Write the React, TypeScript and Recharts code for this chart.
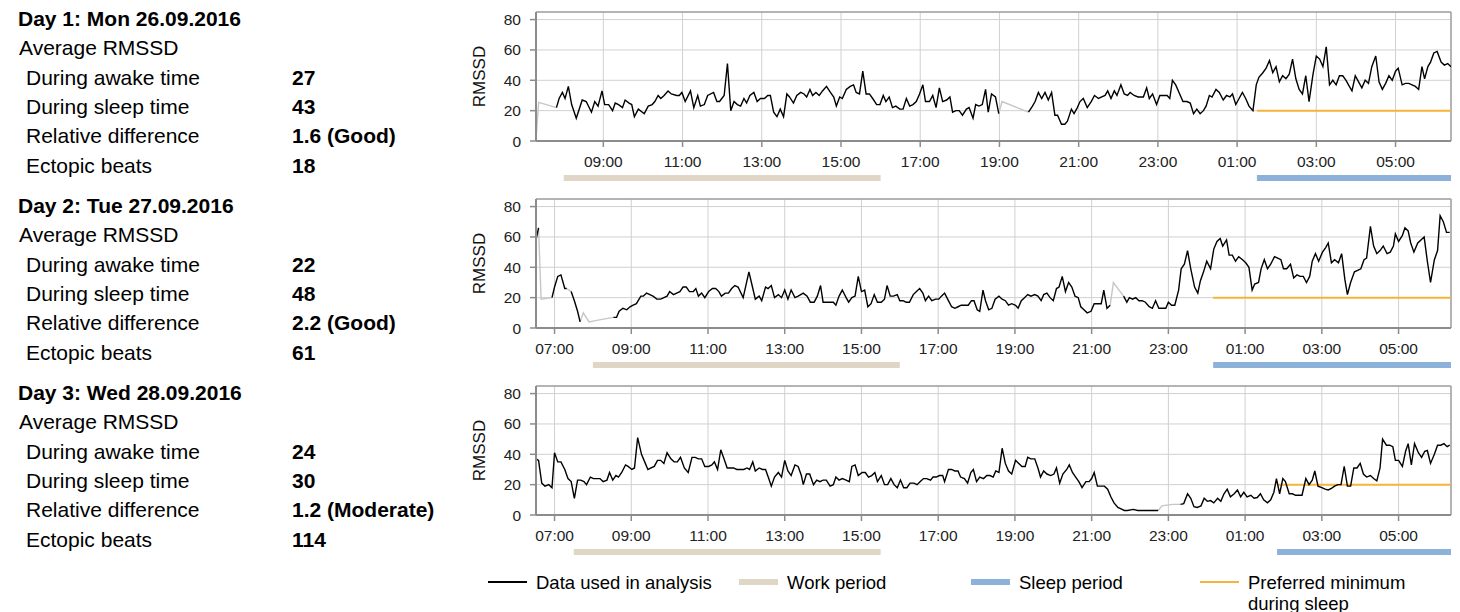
import { LineChart, Line, XAxis, YAxis, CartesianGrid, ReferenceLine } from "recharts";

type Pt = [number, number];

// times are minutes after midnight of the recording day (> 1440 = next morning)
const DAY_TITLES = ["Day 1: Mon 26.09.2016", "Day 2: Tue 27.09.2016", "Day 3: Wed 28.09.2016"];
const STAT_LABELS = ["During awake time", "During sleep time", "Relative difference", "Ectopic beats"];
const DAY1_STATS = ["27", "43", "1.6 (Good)", "18"];
const DAY2_STATS = ["22", "48", "2.2 (Good)", "61"];
const DAY3_STATS = ["24", "30", "1.2 (Moderate)", "114"];

const Y_TICKS = [0, 20, 40, 60, 80];
const PREFERRED_MIN = 20;

const DAY1_RANGE: Pt = [438, 1824];
const DAY1_TICKS = [540, 660, 780, 900, 1020, 1140, 1260, 1380, 1500, 1620, 1740];
const DAY1_WORK: Pt = [480, 960];
const DAY1_SLEEP: Pt = [1530, 1824];
const DAY1_UNUSED: Pt[][] = [
  [[438, 1], [442, 25.5], [469, 22]],
  [[1139, 18], [1144, 26], [1184, 19]],
];
const DAY1_USED: Pt[][] = [
  [
    [469, 22], [473, 28], [478, 32], [482, 28], [487, 36], [492, 24], [499, 15], [508, 27], [514, 26], [522, 19],
    [527, 26], [532, 23], [538, 33], [542, 24], [548, 24], [554, 20], [558, 25], [563, 24], [569, 22], [573, 27],
    [579, 25], [583, 24], [587, 16], [593, 21], [602, 18], [608, 23], [614, 24], [618, 26], [623, 30], [627, 28],
    [632, 30], [638, 33], [643, 31], [651, 30], [655, 30], [659, 32], [664, 26], [672, 33], [677, 22], [683, 30],
    [687, 23], [693, 24], [698, 30], [707, 32], [712, 26], [716, 26], [723, 30], [728, 51], [733, 20], [738, 26],
    [743, 24], [748, 23], [753, 28], [757, 25], [762, 30], [768, 32], [773, 26], [778, 28], [784, 28], [789, 30],
    [793, 30], [798, 19], [803, 16], [808, 21], [813, 16], [818, 31], [822, 29], [828, 25], [833, 30], [839, 32],
    [844, 31], [848, 29], [853, 34], [857, 30], [862, 32], [867, 30], [872, 33], [878, 36], [884, 32], [889, 29],
    [893, 23], [898, 29], [902, 28], [908, 34], [914, 36], [919, 37], [923, 32], [928, 31], [933, 46], [938, 31],
    [943, 31], [948, 28], [954, 24], [959, 24], [964, 30], [968, 26], [973, 29], [978, 22], [983, 23], [989, 21],
    [994, 21], [999, 28], [1004, 23], [1009, 24], [1014, 26], [1019, 31], [1024, 37], [1028, 26], [1034, 26],
    [1039, 30], [1044, 22], [1049, 35], [1054, 26], [1060, 27], [1065, 29], [1069, 19], [1074, 20], [1079, 20],
    [1084, 17], [1090, 21], [1094, 22], [1100, 15], [1104, 24], [1109, 23], [1114, 24], [1119, 34], [1123, 19],
    [1128, 31], [1134, 29], [1139, 18],
  ],
  [
    [1184, 19], [1190, 23], [1194, 26], [1199, 32], [1204, 28], [1209, 32], [1214, 27], [1219, 32], [1224, 17],
    [1228, 17], [1234, 11], [1239, 11], [1243, 13], [1249, 21], [1253, 18], [1258, 22], [1262, 26], [1267, 28],
    [1273, 22], [1279, 26], [1284, 30], [1290, 28], [1295, 29], [1300, 30], [1304, 33], [1309, 28], [1314, 33],
    [1318, 30], [1324, 37], [1329, 31], [1334, 30], [1338, 32], [1344, 30], [1350, 29], [1358, 29], [1363, 35],
    [1367, 28], [1372, 31], [1378, 24], [1383, 30], [1389, 30], [1394, 30], [1398, 28], [1402, 40], [1407, 37],
    [1412, 32], [1418, 26], [1424, 26], [1429, 25], [1434, 18], [1439, 21], [1444, 18], [1449, 20], [1453, 23],
    [1458, 30], [1462, 29], [1468, 34], [1473, 32], [1479, 27], [1484, 30], [1489, 29], [1493, 31], [1498, 24],
    [1503, 28], [1508, 32], [1513, 28], [1518, 23], [1524, 20], [1529, 37], [1533, 42], [1539, 45], [1544, 48],
    [1549, 53], [1554, 45], [1559, 49], [1564, 39], [1569, 43], [1574, 41], [1579, 44], [1584, 54], [1589, 41],
    [1594, 34], [1599, 31], [1604, 43], [1609, 26], [1615, 44], [1620, 56], [1625, 54], [1630, 49], [1635, 62],
    [1640, 37], [1645, 40], [1650, 37], [1655, 43], [1660, 43], [1665, 40], [1670, 36], [1674, 33], [1679, 43],
    [1684, 39], [1689, 35], [1694, 40], [1699, 38], [1704, 49], [1710, 56], [1715, 39], [1720, 34], [1725, 38],
    [1730, 43], [1735, 40], [1740, 46], [1744, 48], [1750, 37], [1755, 38], [1760, 38], [1765, 37], [1770, 36],
    [1775, 34], [1780, 49], [1784, 41], [1789, 49], [1793, 52], [1798, 58], [1803, 59], [1809, 52], [1814, 50],
    [1819, 51], [1824, 49],
  ],
];

const DAY2_RANGE: Pt = [391, 1822];
const DAY2_TICKS = [420, 540, 660, 780, 900, 1020, 1140, 1260, 1380, 1500, 1620, 1740];
const DAY2_WORK: Pt = [480, 960];
const DAY2_SLEEP: Pt = [1450, 1822];
const DAY2_UNUSED: Pt[][] = [
  [[395, 66], [399, 19], [416, 20]],
  [[439, 26], [446, 24]],
  [[460, 4], [465, 10], [474, 4], [486, 5], [499, 6], [512, 7]],
  [[1289, 15], [1294, 30], [1310, 21]],
];
const DAY2_USED: Pt[][] = [
  [[391, 58], [395, 66]],
  [[416, 20], [420, 27], [425, 34], [430, 35], [436, 26], [439, 26]],
  [[446, 24], [451, 18], [456, 11], [460, 4]],
  [
    [512, 7], [517, 7], [521, 11], [527, 13], [533, 12], [538, 14], [543, 15], [548, 16], [555, 21], [559, 21],
    [564, 23], [569, 22], [574, 21], [580, 19], [586, 19], [591, 20], [596, 21], [600, 24], [606, 22], [611, 23],
    [616, 24], [621, 27], [626, 27], [631, 24], [637, 24], [641, 26], [645, 21], [650, 23], [655, 20], [661, 24],
    [667, 26], [672, 26], [677, 24], [681, 21], [687, 23], [692, 23], [697, 26], [702, 28], [707, 27], [715, 20],
    [724, 37], [729, 28], [734, 19], [740, 21], [744, 18], [750, 27], [754, 26], [759, 28], [764, 20], [770, 22],
    [775, 20], [780, 25], [785, 19], [790, 25], [796, 20], [801, 21], [809, 23], [815, 21], [820, 17], [826, 17],
    [831, 21], [836, 28], [840, 17], [845, 17], [851, 17], [856, 17], [860, 15], [865, 21], [870, 25], [876, 20],
    [880, 17], [885, 20], [890, 21], [895, 34], [900, 24], [905, 25], [910, 14], [915, 16], [920, 22], [925, 17],
    [931, 17], [936, 19], [940, 28], [945, 21], [950, 21], [956, 22], [960, 18], [965, 18], [970, 17], [975, 17],
    [981, 22], [986, 24], [991, 26], [996, 23], [1000, 18], [1005, 21], [1010, 18], [1016, 19], [1021, 19],
    [1025, 21], [1030, 23], [1036, 18], [1041, 14], [1046, 13], [1051, 14], [1056, 15], [1062, 15], [1067, 15],
    [1072, 18], [1076, 18], [1081, 12], [1085, 11], [1090, 25], [1094, 18], [1099, 12], [1104, 13], [1109, 19],
    [1115, 21], [1120, 19], [1125, 18], [1130, 15], [1135, 16], [1141, 15], [1145, 13], [1150, 18], [1155, 20],
    [1160, 22], [1165, 21], [1171, 22], [1176, 21], [1181, 18], [1185, 22], [1190, 23], [1195, 20], [1200, 18],
    [1205, 26], [1209, 27], [1214, 34], [1219, 24], [1224, 30], [1229, 27], [1234, 21], [1239, 20], [1243, 14],
    [1248, 12], [1253, 10], [1259, 11], [1264, 16], [1269, 16], [1275, 16], [1279, 25], [1284, 13], [1289, 15],
  ],
  [
    [1310, 21], [1315, 17], [1319, 20], [1324, 19], [1329, 20], [1334, 18], [1339, 18], [1344, 17], [1350, 14],
    [1355, 13], [1360, 18], [1365, 13], [1371, 13], [1376, 13], [1380, 17], [1385, 15], [1390, 15], [1396, 25],
    [1400, 39], [1405, 42], [1410, 51], [1415, 39], [1421, 27], [1426, 23], [1430, 31], [1435, 37], [1440, 44],
    [1446, 39], [1451, 52], [1456, 57], [1461, 59], [1465, 54], [1471, 58], [1475, 48], [1480, 48], [1485, 44],
    [1490, 47], [1496, 45], [1501, 43], [1506, 40], [1511, 25], [1515, 29], [1521, 30], [1525, 39], [1530, 45],
    [1535, 39], [1540, 42], [1546, 47], [1551, 46], [1556, 45], [1560, 39], [1565, 39], [1571, 42], [1576, 33],
    [1581, 35], [1586, 34], [1591, 34], [1596, 30], [1601, 34], [1605, 44], [1610, 49], [1615, 44], [1621, 50],
    [1626, 53], [1630, 56], [1635, 43], [1640, 45], [1646, 43], [1651, 49], [1656, 32], [1660, 22], [1665, 30],
    [1671, 37], [1676, 38], [1681, 39], [1686, 45], [1690, 46], [1696, 67], [1701, 54], [1706, 49], [1711, 51],
    [1716, 54], [1722, 49], [1727, 50], [1732, 54], [1735, 62], [1740, 57], [1746, 61], [1750, 66], [1755, 64],
    [1759, 56], [1764, 50], [1770, 56], [1775, 58], [1780, 60], [1785, 44], [1790, 30], [1796, 45], [1801, 51],
    [1805, 74], [1810, 70], [1815, 63], [1820, 63],
  ],
];

const DAY3_RANGE: Pt = [391, 1822];
const DAY3_TICKS = [420, 540, 660, 780, 900, 1020, 1140, 1260, 1380, 1500, 1620, 1740];
const DAY3_WORK: Pt = [450, 930];
const DAY3_SLEEP: Pt = [1550, 1822];
const DAY3_UNUSED: Pt[][] = [[[1364, 3], [1370, 6], [1386, 7], [1399, 7]]];
const DAY3_USED: Pt[][] = [
  [
    [391, 37], [395, 36], [400, 21], [405, 19], [411, 20], [416, 18], [420, 41], [425, 35], [430, 35], [436, 30],
    [441, 24], [446, 22], [451, 11], [456, 23], [461, 23], [466, 22], [470, 20], [476, 25], [481, 24], [486, 24],
    [491, 24], [496, 22], [502, 23], [506, 28], [511, 23], [516, 26], [520, 25], [525, 28], [531, 33], [535, 32],
    [541, 30], [545, 31], [550, 51], [556, 40], [561, 35], [566, 30], [571, 31], [576, 32], [581, 36], [586, 36],
    [591, 34], [596, 41], [602, 37], [607, 35], [612, 35], [617, 38], [623, 31], [629, 28], [635, 38], [640, 38],
    [645, 37], [650, 37], [655, 32], [661, 32], [666, 33], [670, 35], [675, 30], [680, 43], [685, 37], [690, 31],
    [695, 31], [700, 31], [705, 30], [710, 30], [716, 30], [721, 31], [725, 30], [730, 35], [734, 29], [740, 31],
    [745, 30], [750, 30], [755, 24], [759, 19], [764, 25], [770, 28], [775, 25], [780, 36], [785, 29], [790, 26],
    [796, 33], [801, 32], [806, 26], [809, 20], [814, 27], [819, 27], [825, 20], [830, 23], [835, 22], [840, 23],
    [845, 23], [851, 19], [856, 20], [860, 25], [865, 23], [870, 24], [876, 23], [881, 22], [885, 32], [890, 33],
    [895, 26], [901, 28], [906, 28], [911, 25], [916, 26], [921, 28], [925, 22], [931, 26], [936, 20], [941, 20],
    [946, 24], [951, 20], [956, 18], [961, 23], [966, 18], [971, 18], [976, 21], [982, 21], [987, 20], [992, 22],
    [997, 24], [1002, 24], [1008, 23], [1012, 25], [1017, 25], [1022, 26], [1027, 26], [1030, 22], [1036, 30],
    [1041, 30], [1046, 29], [1051, 29], [1055, 25], [1061, 24], [1066, 21], [1071, 28], [1075, 30], [1080, 22],
    [1085, 25], [1091, 24], [1096, 26], [1101, 26], [1106, 25], [1110, 29], [1115, 28], [1120, 44], [1125, 34],
    [1130, 29], [1135, 27], [1141, 36], [1146, 34], [1151, 32], [1156, 32], [1160, 38], [1165, 37], [1171, 37],
    [1176, 31], [1180, 25], [1185, 29], [1190, 27], [1196, 26], [1201, 27], [1205, 31], [1210, 21], [1215, 27],
    [1221, 30], [1225, 33], [1230, 28], [1235, 25], [1240, 22], [1245, 18], [1251, 22], [1256, 22], [1260, 24],
    [1264, 28], [1269, 19], [1275, 19], [1280, 19], [1285, 17], [1290, 12], [1295, 8], [1301, 5], [1306, 4],
    [1311, 3], [1316, 3], [1325, 3.7], [1332, 3], [1338, 3], [1345, 3], [1351, 3], [1358, 3], [1364, 3],
  ],
  [
    [1399, 7], [1404, 7.5], [1410, 14], [1415, 11], [1420, 5.5], [1425, 5], [1431, 6], [1436, 11], [1441, 9],
    [1446, 9.5], [1451, 8], [1457, 11], [1462, 9], [1467, 14], [1472, 17], [1477, 12], [1483, 14], [1488, 16.5],
    [1493, 12], [1498, 15], [1503, 12], [1509, 13], [1514, 11], [1519, 11.5], [1524, 14], [1529, 10], [1535, 8],
    [1540, 10], [1545, 15], [1549, 24], [1554, 14], [1559, 24], [1563, 22], [1569, 14], [1574, 14], [1579, 13],
    [1584, 13], [1589, 13], [1595, 24], [1600, 20], [1605, 23], [1609, 29], [1614, 19], [1620, 18], [1625, 17],
    [1630, 16.5], [1635, 17.5], [1640, 19], [1645, 20], [1650, 20], [1655, 32], [1660, 19], [1665, 19], [1670, 31],
    [1675, 31], [1680, 34], [1685, 27], [1690, 25], [1696, 26], [1701, 24], [1706, 22.5], [1711, 31], [1715, 50],
    [1721, 46], [1726, 46], [1731, 45], [1735, 36], [1740, 36], [1746, 32], [1751, 42], [1755, 47], [1760, 33],
    [1765, 47], [1771, 41], [1776, 38], [1781, 42], [1785, 42.5], [1790, 34], [1796, 40], [1801, 46], [1806, 46],
    [1811, 47], [1816, 45], [1820, 46],
  ],
];

const LEGEND_LABELS = [["Data used in analysis"], ["Work period"], ["Sleep period"], ["Preferred minimum", "during sleep"]];

const FONT = "Arial, 'Liberation Sans', Helvetica, sans-serif";
const C_USED = "#000000";
const C_UNUSED = "#c6c6c6";
const C_WORK = "#e0d6c5";
const C_SLEEP = "#8db2d9";
const C_PREF = "#f6b43a";
const C_AXIS = "#8c8c8c";
const C_GRID = "#d0d0d0";
const C_BORDER = "#a3a3a3";

const LEGEND_COLORS = [C_USED, C_WORK, C_SLEEP, C_PREF];
const LEGEND_WIDTHS = [1.5, 6, 6, 2];
const LEGEND_X = [488, 739, 971, 1200];

const CHART_LEFT = 470;
const CHART_W = 986;
const CHART_H = 181;

const rows = (pts: Pt[]) => pts.map(([t, v]) => ({ t, v }));
const clock = (m: number) => {
  const h = Math.floor(m / 60) % 24;
  const mm = m % 60;
  return `${String(h).padStart(2, "0")}:${String(mm).padStart(2, "0")}`;
};

function RmssdLabel(props: any) {
  const vb = props.viewBox || {};
  const x = (vb.x ?? 0) + 9;
  const y = (vb.y ?? 0) + (vb.height ?? 0) / 2;
  return (
    <text
      x={x}
      y={y}
      transform={`rotate(-90 ${x} ${y})`}
      textAnchor="middle"
      dominantBaseline="central"
      fontSize={17}
      fill="#111"
      fontFamily={FONT}
    >
      RMSSD
    </text>
  );
}

interface PanelProps {
  top: number;
  title: string;
  stats: string[];
  range: Pt;
  ticks: number[];
  work: Pt;
  sleep: Pt;
  used: Pt[][];
  unused: Pt[][];
}

function Panel({ top, title, stats, range, ticks, work, sleep, used, unused }: PanelProps) {
  const textRows = [
    { text: title, x: 18, bold: true, value: "" },
    { text: "Average RMSSD", x: 19, bold: false, value: "" },
    ...STAT_LABELS.map((l, i) => ({ text: l, x: 26, bold: false, value: stats[i] })),
  ];
  return (
    <>
      {textRows.map((r, i) => (
        <div key={i}>
          <div
            style={{
              position: "absolute",
              left: r.x,
              top: top + 4 + i * 29.3,
              height: 29,
              lineHeight: "29px",
              fontSize: 21,
              fontWeight: r.bold ? "bold" : "normal",
              whiteSpace: "nowrap",
            }}
          >
            {r.text}
          </div>
          {r.value && (
            <div
              style={{
                position: "absolute",
                left: 292,
                top: top + 4 + i * 29.3,
                height: 29,
                lineHeight: "29px",
                fontSize: 21,
                fontWeight: "bold",
                whiteSpace: "nowrap",
              }}
            >
              {r.value}
            </div>
          )}
        </div>
      ))}

      <div style={{ position: "absolute", left: CHART_LEFT, top }}>
        <LineChart width={CHART_W} height={CHART_H} margin={{ top: 12, right: 5, left: 0, bottom: 0 }}>
          <CartesianGrid stroke={C_GRID} />
          <XAxis
            type="number"
            dataKey="t"
            domain={range}
            ticks={ticks}
            interval={0}
            allowDataOverflow
            tickFormatter={clock}
            height={40}
            tickSize={6}
            tickMargin={9}
            axisLine={{ stroke: C_AXIS, strokeWidth: 2 }}
            tickLine={{ stroke: C_AXIS, strokeWidth: 1.5 }}
            tick={{ fontSize: 15.5, fill: "#222", fontFamily: FONT }}
          />
          <YAxis
            type="number"
            domain={[0, 85]}
            ticks={Y_TICKS}
            interval={0}
            allowDataOverflow
            width={66}
            tickSize={6}
            tickMargin={9}
            axisLine={{ stroke: C_AXIS, strokeWidth: 2 }}
            tickLine={{ stroke: C_AXIS, strokeWidth: 1.5 }}
            tick={{ fontSize: 15.5, fill: "#222", fontFamily: FONT }}
            label={RmssdLabel}
          />
          <ReferenceLine y={85} stroke={C_BORDER} strokeWidth={1.5} />
          <ReferenceLine x={range[1]} stroke={C_BORDER} strokeWidth={1.5} />
          <Line
            data={rows([[sleep[0], PREFERRED_MIN], [sleep[1], PREFERRED_MIN]])}
            dataKey="v"
            stroke={C_PREF}
            strokeWidth={2}
            dot={false}
            activeDot={false}
            isAnimationActive={false}
          />
          {unused.map((seg, i) => (
            <Line
              key={"u" + i}
              data={rows(seg)}
              dataKey="v"
              stroke={C_UNUSED}
              strokeWidth={1.4}
              dot={false}
              activeDot={false}
              isAnimationActive={false}
            />
          ))}
          {used.map((seg, i) => (
            <Line
              key={"d" + i}
              data={rows(seg)}
              dataKey="v"
              stroke={C_USED}
              strokeWidth={1.4}
              dot={false}
              activeDot={false}
              isAnimationActive={false}
            />
          ))}
        </LineChart>
      </div>

      <div style={{ position: "absolute", left: CHART_LEFT, top: top + 172 }}>
        <LineChart width={CHART_W} height={12} margin={{ top: 0, right: 5, left: 66, bottom: 0 }}>
          <XAxis type="number" dataKey="t" domain={range} allowDataOverflow hide />
          <YAxis type="number" domain={[0, 1]} hide />
          <Line
            data={rows([[work[0], 0.5], [work[1], 0.5]])}
            dataKey="v"
            stroke={C_WORK}
            strokeWidth={6}
            dot={false}
            activeDot={false}
            isAnimationActive={false}
          />
          <Line
            data={rows([[sleep[0], 0.5], [sleep[1], 0.5]])}
            dataKey="v"
            stroke={C_SLEEP}
            strokeWidth={6}
            dot={false}
            activeDot={false}
            isAnimationActive={false}
          />
        </LineChart>
      </div>
    </>
  );
}

export default function App() {
  return (
    <div
      style={{
        position: "relative",
        width: 1460,
        height: 612,
        overflow: "hidden",
        background: "#fff",
        fontFamily: FONT,
        color: "#000",
      }}
    >
      <style>{"body{margin:0}"}</style>
      <Panel
        top={0}
        title={DAY_TITLES[0]}
        stats={DAY1_STATS}
        range={DAY1_RANGE}
        ticks={DAY1_TICKS}
        work={DAY1_WORK}
        sleep={DAY1_SLEEP}
        used={DAY1_USED}
        unused={DAY1_UNUSED}
      />
      <Panel
        top={187}
        title={DAY_TITLES[1]}
        stats={DAY2_STATS}
        range={DAY2_RANGE}
        ticks={DAY2_TICKS}
        work={DAY2_WORK}
        sleep={DAY2_SLEEP}
        used={DAY2_USED}
        unused={DAY2_UNUSED}
      />
      <Panel
        top={374}
        title={DAY_TITLES[2]}
        stats={DAY3_STATS}
        range={DAY3_RANGE}
        ticks={DAY3_TICKS}
        work={DAY3_WORK}
        sleep={DAY3_SLEEP}
        used={DAY3_USED}
        unused={DAY3_UNUSED}
      />

      {LEGEND_LABELS.map((lines, i) => (
        <div key={i}>
          <div
            style={{
              position: "absolute",
              left: LEGEND_X[i],
              top: 582 - LEGEND_WIDTHS[i] / 2,
              width: 39,
              height: LEGEND_WIDTHS[i],
              background: LEGEND_COLORS[i],
            }}
          />
          <div
            style={{
              position: "absolute",
              left: LEGEND_X[i] + 48,
              top: 571.5,
              fontSize: 18.5,
              lineHeight: "21px",
              whiteSpace: "nowrap",
            }}
          >
            {lines.map((l) => (
              <div key={l}>{l}</div>
            ))}
          </div>
        </div>
      ))}
    </div>
  );
}
